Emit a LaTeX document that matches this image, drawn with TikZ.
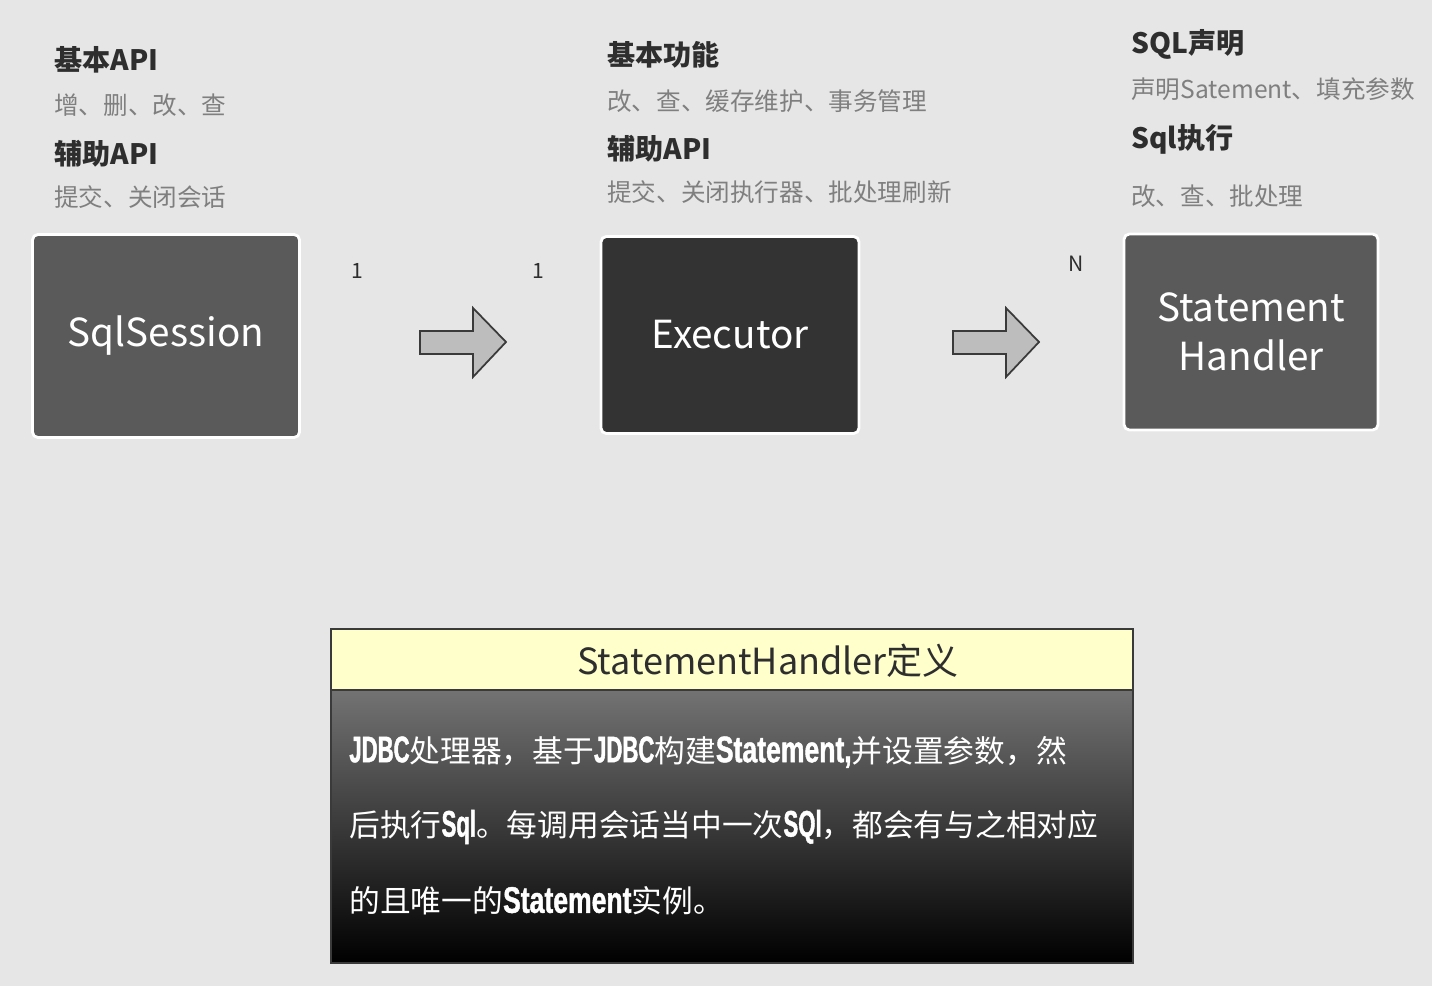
\documentclass[tikz,border=0pt]{standalone}
\usepackage{fontspec}
\setmainfont{Noto Sans CJK SC}
\newfontfamily\condfont[FakeStretch=0.6, FakeBold=1.2]{Liberation Sans Bold}
\newfontfamily\condwfont[FakeStretch=0.72, FakeBold=1.2]{Liberation Sans Bold}
\newcommand{\cond}[1]{{\condfont\fontsize{21}{21}\selectfont #1}}
\newcommand{\condw}[1]{{\condwfont\fontsize{21}{21}\selectfont #1}}
\definecolor{bgcol}{HTML}{E6E6E6}
\definecolor{boxgray}{HTML}{5A5A5A}
\definecolor{boxdark}{HTML}{333333}
\definecolor{headcol}{HTML}{2E2E2E}
\definecolor{subcol}{HTML}{7F7F7F}
\definecolor{arrowcol}{HTML}{BDBDBD}
\definecolor{arrowline}{HTML}{3A3A3A}
\definecolor{notecol}{HTML}{FFFFCC}
\begin{document}
\begin{tikzpicture}[x=0.02cm, y=-0.02cm,
	box/.style={draw=white, line width=1.6pt, rounded corners=3pt, text=white, align=center, font=\fontsize{22}{28}\selectfont},
	head/.style={anchor=west, inner sep=0pt, text=headcol, font=\fontsize{16}{20}\selectfont\bfseries},
	sub/.style={anchor=west, inner sep=0pt, text=subcol, font=\fontsize{14}{18}\selectfont},
	num/.style={inner sep=0pt, text=headcol, font=\fontsize{12}{14}\selectfont},
	blockarrow/.style={fill=arrowcol, draw=arrowline, line width=1pt},
	bodyline/.style={anchor=west, inner sep=0pt, text=white, font=\fontsize{17.5}{21}\selectfont}]
		\fill[bgcol] (0,0) rectangle (1432,986);
		\useasboundingbox (0,0) rectangle (1432,986);

		\node[box, fill=boxgray, minimum width=5.34cm, minimum height=4.06cm] at (166,336) (sess) {SqlSession};
		\node[box, fill=boxdark, minimum width=5.16cm, minimum height=3.94cm] at (730,335) (exec) {Executor};
		\node[box, fill=boxgray, minimum width=5.08cm, minimum height=3.92cm] at (1251,332) (stmt) {Statement\\Handler};

		\node[head] at (54,60) (h1) {基本API};
		\node[sub] at (54,105) (s1) {增、删、改、查};
		\node[head] at (54,154) (h2) {辅助API};
		\node[sub] at (54,197) (s2) {提交、关闭会话};

		\node[head] at (607,55) (h3) {基本功能};
		\node[sub] at (607,101) (s3) {改、查、缓存维护、事务管理};
		\node[head] at (607,149) (h4) {辅助API};
		\node[sub] at (607,192) (s4) {提交、关闭执行器、批处理刷新};

		\node[head] at (1131,44) (h5) {SQL声明};
		\node[sub] at (1131,89) (s5) {声明Satement、填充参数};
		\node[head] at (1131,139) (h6) {Sql执行};
		\node[sub] at (1131,196) (s6) {改、查、批处理};

		\node[num] at (357,271) (n1) {1};
		\node[num] at (538,271) (n2) {1};
		\node[num] at (1076,264) (n3) {N};

		\draw[blockarrow] (420,331) -- (473,331) -- (473,308) -- (506,342) -- (473,377) -- (473,354) -- (420,354) -- cycle;
		\draw[blockarrow] (953,331) -- (1006,331) -- (1006,308) -- (1039,342) -- (1006,377) -- (1006,354) -- (953,354) -- cycle;

		\node[draw=arrowline, line width=0.8pt, top color=gray!90!black, bottom color=black, minimum width=16.04cm, minimum height=5.46cm, inner sep=0pt] at (732,826.5) (defbody) {};
		\node[draw=arrowline, line width=0.8pt, fill=notecol, minimum width=16.04cm, minimum height=1.22cm, inner sep=0pt] at (732,659.5) (deftitle) {};
		\node[inner sep=0pt, text=headcol, font=\fontsize{20.5}{24}\selectfont] at (768,661) (title) {StatementHandler定义};

		\node[bodyline] at (349,752) (line1) {\cond{JDBC}处理器，基于\cond{JDBC}构建\condw{Statement,}并设置参数，然};
		\node[bodyline] at (349,827) (line2) {后执行\cond{Sql}。每调用会话当中一次\cond{SQl}，都会有与之相对应};
		\node[bodyline] at (349,901) (line3) {的且唯一的\condw{Statement}实例。};
	\end{tikzpicture}
\end{document}
